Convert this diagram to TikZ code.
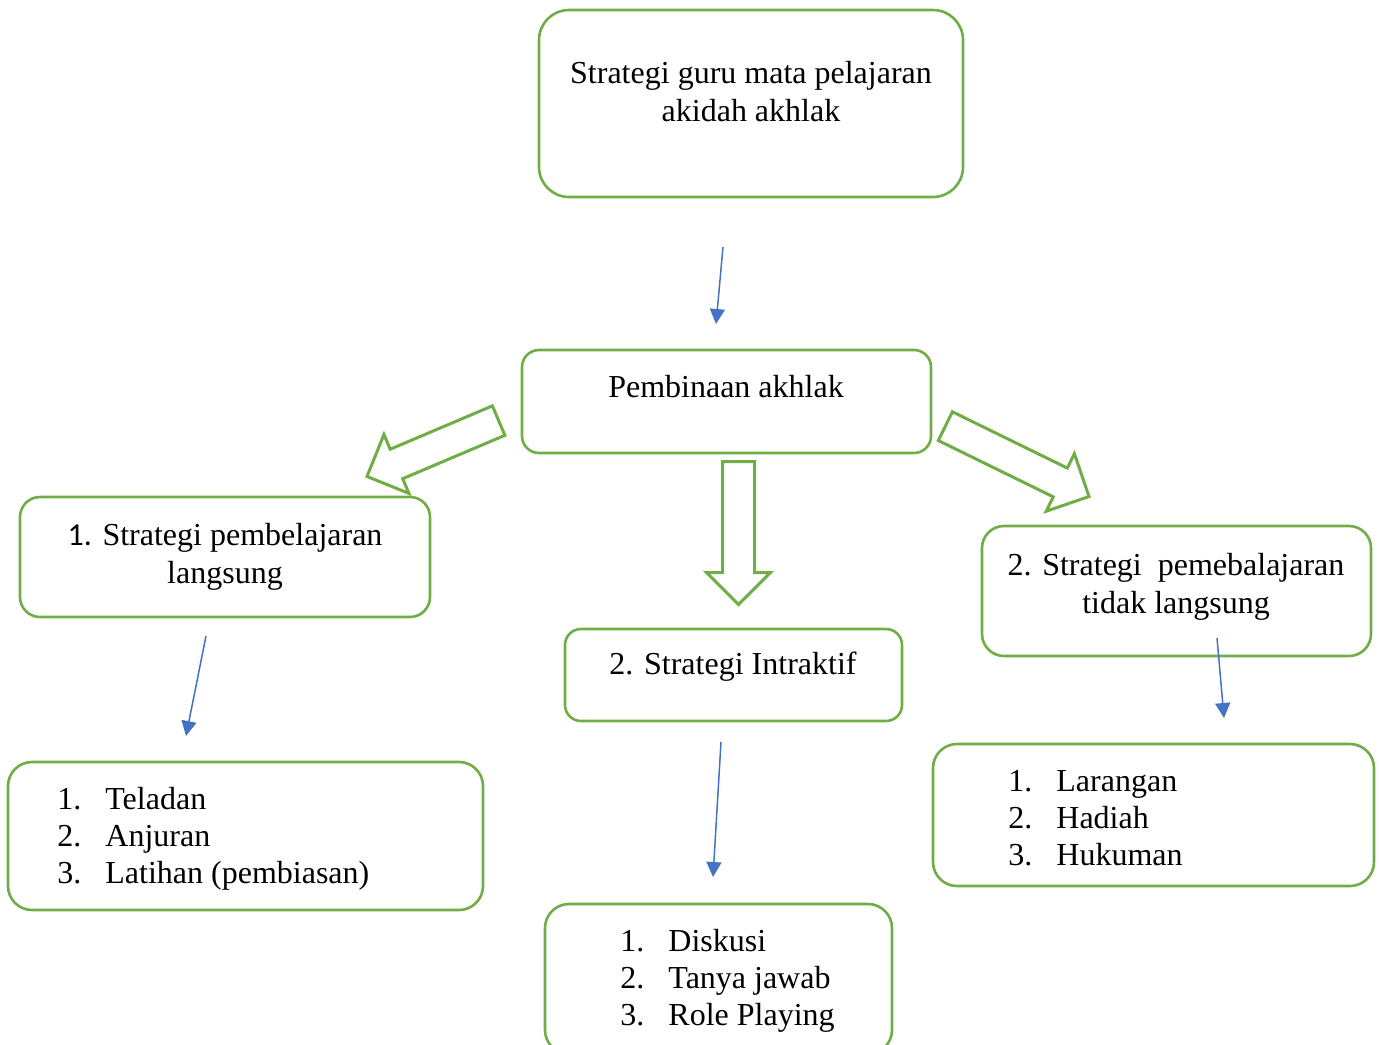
\documentclass[tikz,border=0pt]{standalone}
\usepackage{fontspec}
\setmainfont{Liberation Serif}
\newfontfamily\numfont{Carlito}
\usetikzlibrary{arrows.meta,shapes.arrows,fit}
\definecolor{leafgreen}{HTML}{70AD47}
\definecolor{linkblue}{HTML}{4472C4}
\newcommand{\numitem}[2]{\makebox[24pt][l]{#1}#2}

\begin{document}
\begin{tikzpicture}[x=0.5pt,y=-0.5pt,
        box/.style={draw=leafgreen, line width=1.3pt, inner sep=0pt},
        txt/.style={font=\fontsize{16}{19}\selectfont, align=center, anchor=base, inner sep=0pt},
        listtxt/.style={font=\fontsize{16}{18.5}\selectfont, align=left, anchor=base west, inner sep=0pt},
        thinarrow/.style={draw=linkblue, line width=0.75pt, -{Triangle[length=7.5pt,width=7.5pt]}},
        fatarrow/.style={single arrow, draw=leafgreen, line width=1.5pt, minimum width=30.5pt,
            single arrow head extend=8pt, inner xsep=0pt, inner ysep=7.25pt, anchor=tail},
        ]
        \clip (0,0) rectangle (1379,1044);

        % Boxes
        \node[box, rounded corners=15pt, fit={(539,10) (963,197)}] (top) {};
        \node[box, rounded corners=8.5pt, fit={(522,350) (931,453)}] (pa) {};
        \node[box, rounded corners=10pt, fit={(20,497) (430,617)}] (s1) {};
        \node[box, rounded corners=8pt, fit={(565,629) (902,721)}] (s2) {};
        \node[box, rounded corners=11pt, fit={(982,526) (1371,656)}] (s3) {};
        \node[box, rounded corners=12pt, fit={(8,762) (483,910)}] (l1) {};
        \node[box, rounded corners=12pt, fit={(545,904) (892,1054)}] (l2) {};
        \node[box, rounded corners=12pt, fit={(933,744) (1374,886)}] (l3) {};

        % Texts (anchored on the baseline of the last line)
        \node[txt] (topText) at (751,121) {Strategi guru mata pelajaran\\akidah akhlak};
        \node[txt] (paText) at (726,397) {Pembinaan akhlak};
        \node[txt] (s1Text) at (225,583) {{\numfont 1.} Strategi pembelajaran\\langsung};
        \node[txt] (s2Text) at (733,674) {2. Strategi Intraktif};
        \node[txt] (s3Text) at (1176,613) {2. Strategi~ pemebalajaran\\tidak langsung};
        \node[listtxt] (l1Text) at (57,883) {\numitem{1.}{Teladan}\\\numitem{2.}{Anjuran}\\\numitem{3.}{Latihan (pembiasan)}};
        \node[listtxt] (l2Text) at (620,1025) {\numitem{1.}{Diskusi}\\\numitem{2.}{Tanya jawab}\\\numitem{3.}{Role Playing}};
        \node[listtxt] (l3Text) at (1008,865) {\numitem{1.}{Larangan}\\\numitem{2.}{Hadiah}\\\numitem{3.}{Hukuman}};

        % Thin arrows
        \coordinate (a0) at (723,247);
        \coordinate (a1) at (716,324);
        \coordinate (b0) at (206,636);
        \coordinate (b1) at (186,736);
        \coordinate (c0) at (721,742);
        \coordinate (c1) at (713,877);
        \coordinate (d0) at (1217,638);
        \coordinate (d1) at (1224,718);
        \draw[thinarrow] (a0) -- (a1);
        \draw[thinarrow] (b0) -- (b1);
        \draw[thinarrow] (c0) -- (c1);
        \draw[thinarrow] (d0) -- (d1);

        % Block arrows
        \node[fatarrow, minimum height=71.5pt, rotate=203] (leftArrow) at (500,420) {};
        \node[fatarrow, minimum height=71.5pt, rotate=-90] (midArrow) at (738.5,460) {};
        \node[fatarrow, minimum height=80pt, rotate=-26.1] (rightArrow) at (944,425.5) {};

\end{tikzpicture}
\end{document}
